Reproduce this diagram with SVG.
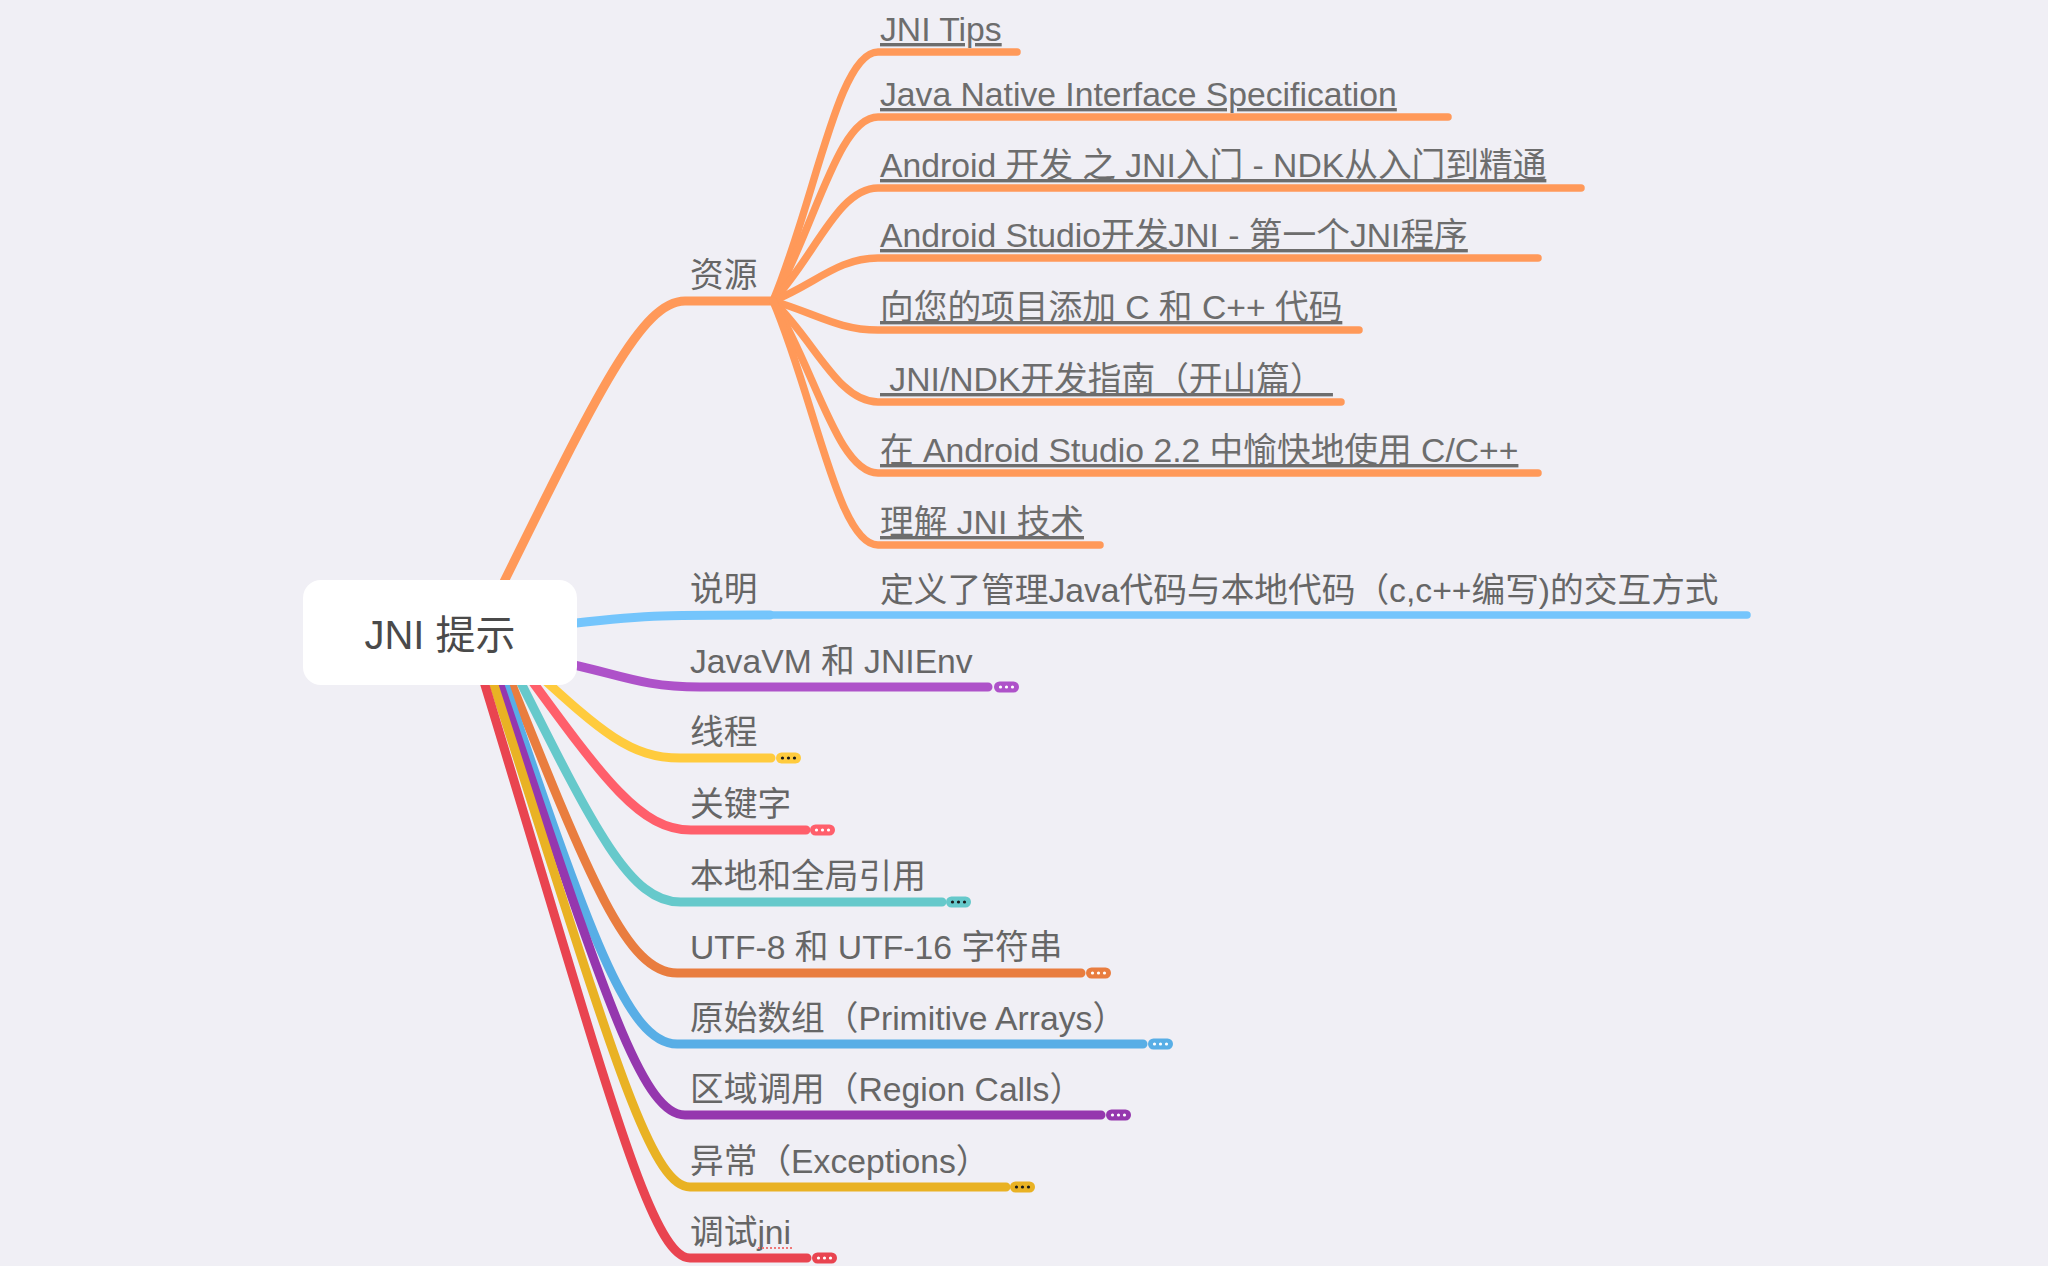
<svg xmlns="http://www.w3.org/2000/svg" width="2048" height="1266" viewBox="0 0 2048 1266">
<style>
.bg{fill:#f0eff5}
.ln{fill:none;stroke-linecap:round;stroke-linejoin:round}
.main{stroke-width:9}
.sub{stroke-width:7.5}
.t{font-family:"Liberation Sans","Noto Sans CJK SC",sans-serif;font-size:33.7px;fill:#666666}
.lk{font-family:"Liberation Sans","Noto Sans CJK SC",sans-serif;font-size:33.7px;fill:#6d6d6d;text-decoration:underline;white-space:pre}
.root{font-family:"Liberation Sans","Noto Sans CJK SC",sans-serif;font-size:40px;fill:#4a4a4a}
.dw{fill:#ffffff}
.dk{fill:#1a1a1a}
</style>
<rect class="bg" x="0" y="0" width="2048" height="1266"/>
<g id="connectors">
  <!-- 资源 -->
  <path class="ln main" stroke="#FF9959" d="M 495 600 C 598 391, 642 301, 685 301 L 773 301"/>
  <path class="ln sub" stroke="#FF9959" d="M 773 301 C 815 201, 838 52, 878 52 L 1017 52"/>
  <path class="ln sub" stroke="#FF9959" d="M 773 301 C 815 227, 838 117, 878 117 L 1448 117"/>
  <path class="ln sub" stroke="#FF9959" d="M 773 301 C 815 256, 838 188, 878 188 L 1581 188"/>
  <path class="ln sub" stroke="#FF9959" d="M 773 301 C 815 284, 838 258, 878 258 L 1538 258"/>
  <path class="ln sub" stroke="#FF9959" d="M 773 301 C 815 313, 838 330, 878 330 L 1359 330"/>
  <path class="ln sub" stroke="#FF9959" d="M 773 301 C 815 341, 838 402, 878 402 L 1341 402"/>
  <path class="ln sub" stroke="#FF9959" d="M 773 301 C 815 370, 838 473, 878 473 L 1538 473"/>
  <path class="ln sub" stroke="#FF9959" d="M 773 301 C 815 399, 838 545, 878 545 L 1100 545"/>
  <!-- 说明 -->
  <path class="ln main" stroke="#74C5FC" d="M 560 625 C 640 615, 660 615, 770 615"/>
  <path class="ln sub" stroke="#74C5FC" d="M 770 615 L 1747 615"/>
  <!-- JavaVM -->
  <path class="ln main" stroke="#AE52C9" d="M 560 662 C 620 674, 640 687, 700 687 L 988 687"/>
  <!-- 线程 -->
  <path class="ln main" stroke="#FFCB3D" d="M 533.5 670 C 601.3 731.6, 630.3 758, 680.3 758 L 771 758"/>
  <!-- 关键字 -->
  <path class="ln main" stroke="#FF5F6B" d="M 524 670 C 605.8 782, 640.9 830, 690.9 830 L 806 830"/>
  <!-- 本地和全局引用 -->
  <path class="ln main" stroke="#66C9CB" d="M 514.5 670 C 595.7 832.4, 630.5 902, 680.5 902 L 942 902"/>
  <!-- UTF -->
  <path class="ln main" stroke="#E97D3F" d="M 506 670 C 590.8 882.1, 627.2 973, 677.2 973 L 1081 973"/>
  <!-- 原始数组 -->
  <path class="ln main" stroke="#58AEE6" d="M 499.9 670 C 588.9 931.8, 627.1 1044, 677.1 1044 L 1143 1044"/>
  <!-- 区域调用 -->
  <path class="ln main" stroke="#9537AE" d="M 494.9 670 C 600.5 981.5, 640 1115, 685 1115 L 1101 1115"/>
  <!-- 异常 -->
  <path class="ln main" stroke="#E9B224" d="M 489.1 670 C 606.4 1031.9, 648 1187, 690 1187 L 1006 1187"/>
  <!-- 调试jni -->
  <path class="ln main" stroke="#E94450" d="M 480.4 670 C 606 1081.6, 650 1258, 690 1258 L 807 1258"/>
</g>

<g id="root">
  <rect x="303" y="580" width="274" height="105" rx="18" fill="#ffffff"/>
  <text class="root" x="440" y="649" text-anchor="middle">JNI 提示</text>
</g>

<g id="n-ziyuan"><text class="t" x="690" y="287">资源</text></g>
<g id="n-r1"><text class="lk" x="880" y="41">JNI Tips</text></g>
<g id="n-r2"><text class="lk" x="880" y="106">Java Native Interface Specification</text></g>
<g id="n-r3"><text class="lk" x="880" y="177">Android 开发 之 JNI入门 - NDK从入门到精通</text></g>
<g id="n-r4"><text class="lk" x="880" y="247">Android Studio开发JNI - 第一个JNI程序</text></g>
<g id="n-r5"><text class="lk" x="880" y="319">向您的项目添加 C 和 C++ 代码</text></g>
<g id="n-r6"><text class="lk" x="880" y="391"> JNI/NDK开发指南（开山篇） </text></g>
<g id="n-r7"><text class="lk" x="880" y="462">在 Android Studio 2.2 中愉快地使用 C/C++</text></g>
<g id="n-r8"><text class="lk" x="880" y="534">理解 JNI 技术</text></g>

<g id="n-shuoming"><text class="t" x="690" y="601">说明</text></g>
<g id="n-shuoming-c"><text class="t" x="880" y="602">定义了管理Java代码与本地代码（c,c++编写)的交互方式</text></g>

<g id="n-javavm">
  <text class="t" x="690" y="673">JavaVM 和 JNIEnv</text>
  <rect x="994" y="681.5" width="25" height="11" rx="5.5" fill="#AE52C9"/>
  <circle class="dw" cx="1000.5" cy="687" r="1.6"/><circle class="dw" cx="1006.5" cy="687" r="1.6"/><circle class="dw" cx="1012.5" cy="687" r="1.6"/>
</g>
<g id="n-xiancheng">
  <text class="t" x="690" y="744">线程</text>
  <rect x="776" y="752.5" width="25" height="11" rx="5.5" fill="#FFCB3D"/>
  <circle class="dk" cx="782.5" cy="758" r="1.6"/><circle class="dk" cx="788.5" cy="758" r="1.6"/><circle class="dk" cx="794.5" cy="758" r="1.6"/>
</g>
<g id="n-guanjianzi">
  <text class="t" x="690" y="816">关键字</text>
  <rect x="810" y="824.5" width="25" height="11" rx="5.5" fill="#FF5F6B"/>
  <circle class="dw" cx="816.5" cy="830" r="1.6"/><circle class="dw" cx="822.5" cy="830" r="1.6"/><circle class="dw" cx="828.5" cy="830" r="1.6"/>
</g>
<g id="n-bendi">
  <text class="t" x="690" y="888">本地和全局引用</text>
  <rect x="946" y="896.5" width="25" height="11" rx="5.5" fill="#66C9CB"/>
  <circle class="dk" cx="952.5" cy="902" r="1.6"/><circle class="dk" cx="958.5" cy="902" r="1.6"/><circle class="dk" cx="964.5" cy="902" r="1.6"/>
</g>
<g id="n-utf">
  <text class="t" x="690" y="959">UTF-8 和 UTF-16 字符串</text>
  <rect x="1086" y="967.5" width="25" height="11" rx="5.5" fill="#E97D3F"/>
  <circle class="dw" cx="1092.5" cy="973" r="1.6"/><circle class="dw" cx="1098.5" cy="973" r="1.6"/><circle class="dw" cx="1104.5" cy="973" r="1.6"/>
</g>
<g id="n-yuanshi">
  <text class="t" x="690" y="1030">原始数组（Primitive Arrays）</text>
  <rect x="1148" y="1038.5" width="25" height="11" rx="5.5" fill="#58AEE6"/>
  <circle class="dw" cx="1154.5" cy="1044" r="1.6"/><circle class="dw" cx="1160.5" cy="1044" r="1.6"/><circle class="dw" cx="1166.5" cy="1044" r="1.6"/>
</g>
<g id="n-quyu">
  <text class="t" x="690" y="1101">区域调用（Region Calls）</text>
  <rect x="1106" y="1109.5" width="25" height="11" rx="5.5" fill="#9537AE"/>
  <circle class="dw" cx="1112.5" cy="1115" r="1.6"/><circle class="dw" cx="1118.5" cy="1115" r="1.6"/><circle class="dw" cx="1124.5" cy="1115" r="1.6"/>
</g>
<g id="n-yichang">
  <text class="t" x="690" y="1173">异常（Exceptions）</text>
  <rect x="1010" y="1181.5" width="25" height="11" rx="5.5" fill="#E9B224"/>
  <circle class="dk" cx="1016.5" cy="1187" r="1.6"/><circle class="dk" cx="1022.5" cy="1187" r="1.6"/><circle class="dk" cx="1028.5" cy="1187" r="1.6"/>
</g>
<g id="n-tiaoshi">
  <text class="t" x="690" y="1244">调试jni</text>
  <line x1="758" y1="1248" x2="792" y2="1248" stroke="#f07878" stroke-width="2" stroke-dasharray="2 2"/>
  <rect x="812" y="1252.5" width="25" height="11" rx="5.5" fill="#E94450"/>
  <circle class="dw" cx="818.5" cy="1258" r="1.6"/><circle class="dw" cx="824.5" cy="1258" r="1.6"/><circle class="dw" cx="830.5" cy="1258" r="1.6"/>
</g>
</svg>
